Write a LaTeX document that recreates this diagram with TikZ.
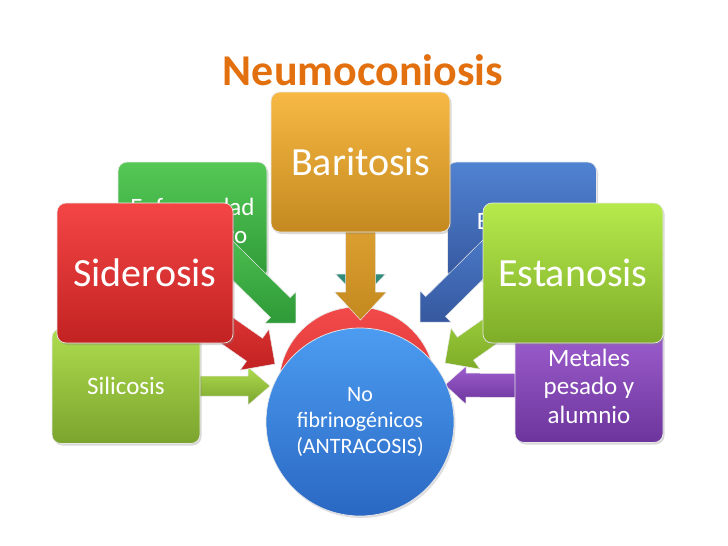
\documentclass[tikz,border=0pt]{standalone}
\usepackage{fontspec}
\setmainfont{Carlito}
\usepackage{tikz}
\usetikzlibrary{calc, shadows}

\definecolor{tituloNaranja}{HTML}{E2700E}
\definecolor{bariA}{HTML}{F7B944}
\definecolor{bariB}{HTML}{C4891F}
\definecolor{enfA}{HTML}{55C855}
\definecolor{enfB}{HTML}{2E9A38}
\definecolor{berA}{HTML}{5082D2}
\definecolor{berB}{HTML}{36589F}
\definecolor{sidA}{HTML}{F44545}
\definecolor{sidB}{HTML}{C22222}
\definecolor{estA}{HTML}{B6EA4C}
\definecolor{estB}{HTML}{7EAC28}
\definecolor{silA}{HTML}{AEDC4E}
\definecolor{silB}{HTML}{7BA42E}
\definecolor{metA}{HTML}{9E5ECE}
\definecolor{metB}{HTML}{6C359C}
\definecolor{rojoA}{HTML}{F24A4A}
\definecolor{rojoB}{HTML}{D02626}
\definecolor{azulA}{HTML}{4C9CF2}
\definecolor{azulB}{HTML}{2A68C2}
\definecolor{tealA}{HTML}{45AE9C}
\definecolor{tealB}{HTML}{2E8474}
\definecolor{borde}{HTML}{E8E8E8}

\tikzstyle{caja} = [rectangle, rounded corners=9pt, draw=borde, line width=0.7pt, text=white, align=center, inner sep=2pt, drop shadow={opacity=0.3, shadow xshift=1.5pt, shadow yshift=-2pt}]
\tikzstyle{grande} = [caja, minimum height=140pt, font=\fontsize{40}{44}\selectfont]
\tikzstyle{media} = [caja, minimum width=149pt, font=\fontsize{25}{28.5}\selectfont]
\tikzstyle{circulo} = [circle, draw=borde, line width=0.7pt, inner sep=0pt, text=white, align=center]
\tikzstyle{flecha} = [draw=borde, line width=0.5pt]

% flecha de bloque: estilo, origen, punta, medio ancho, medio ancho punta, largo punta
\newcommand{\bloque}[6]{%
  \path[flecha, #1] let \p1=(#2), \p2=(#3),
      \n1={veclen(\x2-\x1,\y2-\y1)}, \n2={atan2(\y2-\y1,\x2-\x1)} in
    [shift={(\p1)}, rotate=\n2]
    (0pt,-#4pt) -- ({(\n1-#6)*1pt},-#4pt) -- ({(\n1-#6)*1pt},-#5pt) -- ({\n1*1pt},0pt)
    -- ({(\n1-#6)*1pt},#5pt) -- ({(\n1-#6)*1pt},#4pt) -- (0pt,#4pt) -- cycle;
}

\begin{document}
\begin{tikzpicture}[x=1pt, y=-1pt]
    \useasboundingbox (0,0) rectangle (728,546);

    % Centros de las cajas
    \coordinate (cBari) at (360.5,162);
    \coordinate (cEnf) at (192.5,221);
    \coordinate (cBer) at (522,221);
    \coordinate (cSid) at (145,273);
    \coordinate (cEst) at (573,273);
    \coordinate (cSil) at (126,386);
    \coordinate (cMet) at (589,386);

    % Puntas de las flechas
    \coordinate (tBari) at (360.5,320);
    \coordinate (tTeal) at (360.5,300);
    \coordinate (tEnf) at (296,323);
    \coordinate (tBer) at (420,322);
    \coordinate (tSid) at (275,364);
    \coordinate (tEst) at (445,363);
    \coordinate (tSil) at (270,386);
    \coordinate (tMet) at (445,385);

    % Titulo
    \node (titulo) at (363,70) [font=\bfseries\fontsize{44}{48}\selectfont, text=tituloNaranja] {Neumoconiosis};

    % Cajas del fondo
    \node (enf) at (cEnf) [media, minimum height=118pt, top color=enfA, bottom color=enfB] {Enfermedad\\del minero};
    \node (ber) at (cBer) [media, minimum height=118pt, top color=berA, bottom color=berB] {Beriliosis};

    % Flechas del fondo
    \bloque{top color=tealA, bottom color=tealB}{cBari}{tTeal}{14}{25}{26}
    \bloque{top color=enfA, bottom color=enfB}{cEnf}{tEnf}{14}{22}{22}
    \bloque{top color=berA, bottom color=berB}{cBer}{tBer}{14}{22}{22}

    % Circulo rojo
    \node (rojo) at (357,385) [circulo, minimum size=156pt, top color=rojoA, bottom color=rojoB] {};

    % Baritosis
    \bloque{top color=bariA!80!bariB, bottom color=bariB}{cBari}{tBari}{15}{26}{28}
    \node (bari) at (cBari) [grande, minimum width=179pt, top color=bariA, bottom color=bariB] {Baritosis};

    % Silicosis y metales
    \bloque{top color=silA, bottom color=silB}{cSil}{tSil}{10}{19}{22}
    \bloque{top color=metA, bottom color=metB}{cMet}{tMet}{12}{19}{21}
    \node (sil) at (cSil) [media, minimum width=148pt, minimum height=115pt, top color=silA, bottom color=silB] {Silicosis};
    \node (met) at (cMet) [media, minimum width=148pt, minimum height=113pt, top color=metA, bottom color=metB] {Metales\\pesado y\\alumnio};

    % Circulo azul
    \node (azul) at (360,422) [circulo, minimum size=188pt, top color=azulA, bottom color=azulB, font=\fontsize{22}{26}\selectfont, drop shadow={opacity=0.25, shadow xshift=1.5pt, shadow yshift=-2pt}] {No\\fibrinogénicos\\(ANTRACOSIS)};

    % Siderosis y Estanosis
    \bloque{top color=sidA, bottom color=sidB}{cSid}{tSid}{14}{25}{25}
    \bloque{top color=estA, bottom color=estB}{cEst}{tEst}{14}{25}{25}
    \node (sid) at (cSid) [grande, minimum width=176pt, top color=sidA, bottom color=sidB] {Siderosis};
    \node (est) at (cEst) [grande, minimum width=180pt, top color=estA, bottom color=estB] {Estanosis};
\end{tikzpicture}
\end{document}
